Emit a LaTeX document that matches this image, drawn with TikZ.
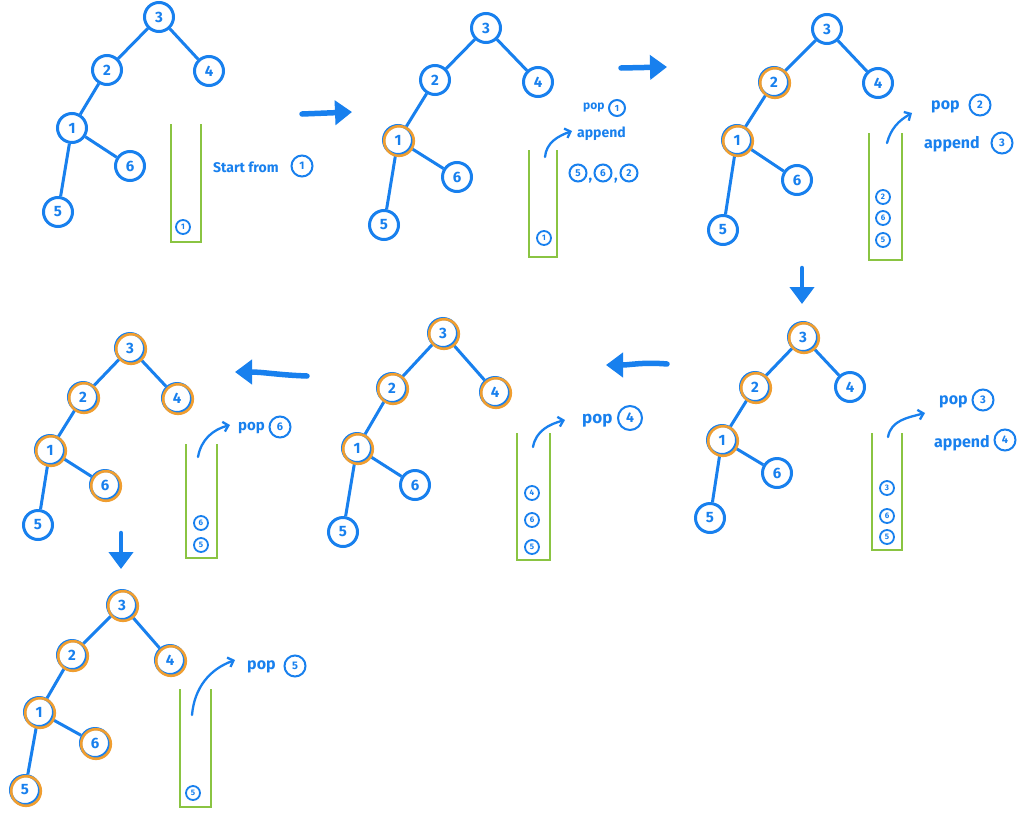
\documentclass[tikz,border=0pt]{standalone}
\usepackage{fontspec}
\setmainfont{Fira Sans}
\usetikzlibrary{arrows.meta}
\definecolor{bl}{RGB}{24,128,238}
\definecolor{og}{RGB}{240,158,48}
\definecolor{gr}{RGB}{138,196,66}
\tikzset{
  tn/.style={circle, draw=bl, line width=3pt, minimum size=29pt, inner sep=0pt, text=bl, font=\fontsize{15}{15}\selectfont\bfseries},
  edge/.style={draw=bl, line width=3pt},
  hlc/.style={draw=og, line width=2.6pt},
  stk/.style={draw=gr, line width=2.6pt, line join=miter},
  si/.style={circle, draw=bl, line width=1.8pt, minimum size=14pt, inner sep=0pt, text=bl, font=\fontsize{8}{8}\selectfont\bfseries},
  lc/.style={circle, draw=bl, line width=2pt, minimum size=21pt, inner sep=0pt, text=bl, font=\fontsize{11}{11}\selectfont\bfseries},
  lcs/.style={lc, minimum size=17pt, font=\fontsize{10}{10}\selectfont\bfseries},
  lbl/.style={text=bl, anchor=west, inner sep=0pt, font=\fontsize{15}{15}\selectfont\bfseries},
  bigarr/.style={draw=bl, line width=5.5pt, line cap=round, -{Triangle[length=17pt,width=24pt]}},
  carr/.style={draw=bl, line width=2.3pt, line cap=round, -{Straight Barb[length=5pt,width=10pt]}},
}
\newcommand\drawtree[7]{%
  \node[tn] (#1n3) at (#2) {3};
  \node[tn] (#1n2) at (#3) {2};
  \node[tn] (#1n4) at (#4) {4};
  \node[tn] (#1n1) at (#5) {1};
  \node[tn] (#1n6) at (#6) {6};
  \node[tn] (#1n5) at (#7) {5};
  \draw[edge] (#1n3) -- (#1n2);
  \draw[edge] (#1n3) -- (#1n4);
  \draw[edge] (#1n2) -- (#1n1);
  \draw[edge] (#1n1) -- (#1n6);
  \draw[edge] (#1n1) -- (#1n5);
}
\newcommand\hlnode[1]{\draw[hlc] ([shift={(1pt,-1pt)}]#1.center) circle[radius=14.8pt];}
\newcommand\drawstack[4]{\draw[stk] (#1,#3) -- (#1,#4) -- (#2,#4) -- (#2,#3);}
\begin{document}
\begin{tikzpicture}[x=1pt,y=-1pt]
\useasboundingbox (0,0) rectangle (1024,822);
\fill[white] (0,0) rectangle (1024,822);

% ---------- Panel 1 ----------
\drawtree{a}{159,17}{107,70}{209,71}{72,128}{130,166}{58,212}
\drawstack{171}{201}{124}{242}
\node[si] (as1) at (183,227) {1};
\node[lbl, font=\fontsize{14}{14}\selectfont\bfseries] (atx) at (213,167) {Start from};
\node[lc] (atc) at (302,166) {1};

% ---------- Panel 2 ----------
\drawtree{b}{486,28}{435,80}{538,82}{398,140}{457,177}{384,225}
\hlnode{bn1}
\drawstack{529}{557}{150}{257}
\node[si] (bs1) at (544,238) {1};
\coordinate (bcs) at (545,157);
\coordinate (bce) at (572,131);
\draw[carr] (bcs) to[out=85,in=200] (bce);
\node[lbl, font=\fontsize{12}{12}\selectfont\bfseries] (btp) at (583,108) {pop};
\node[lc, minimum size=16pt, font=\fontsize{9}{9}\selectfont\bfseries] (btc) at (617,108) {1};
\node[lbl, font=\fontsize{14}{14}\selectfont\bfseries] (bta) at (577,134) {append};
\node[lcs] (bq5) at (578,173) {5};
\node[lcs] (bq6) at (603,173) {6};
\node[lcs] (bq2) at (629,173) {2};
\node[lbl, anchor=center] (bk1) at (590.5,181) {,};
\node[lbl, anchor=center] (bk2) at (616,181) {,};

% ---------- Panel 3 ----------
\drawtree{c}{827,29}{774,82}{878,83}{737,140}{797,180}{723,230}
\hlnode{cn2}
\hlnode{cn1}
\drawstack{869}{902}{133}{260}
\node[si] (cs2) at (883,197) {2};
\node[si] (cs6) at (883,218) {6};
\node[si] (cs5) at (883,240) {5};
\coordinate (ccs) at (887,143);
\coordinate (cce) at (912,113);
\draw[carr] (ccs) to[out=75,in=210] (cce);
\node[lbl, font=\fontsize{16}{16}\selectfont\bfseries] (ctp) at (931,107) {pop};
\node[lc] (ctc) at (980,105) {2};
\node[lbl, font=\fontsize{16}{16}\selectfont\bfseries] (cta) at (924,144) {append};
\node[lc] (ctd) at (1002,143) {3};

% ---------- Panel 4 ----------
\drawtree{d}{803,337}{755,387}{850,387}{722,440}{777,473}{710,518}
\hlnode{dn3}
\hlnode{dn2}
\hlnode{dn1}
\drawstack{872}{902}{433}{550}
\node[si] (ds3) at (887,488) {3};
\node[si] (ds6) at (887,516) {6};
\node[si] (ds5) at (887,537) {5};
\coordinate (dcs) at (888,437);
\coordinate (dce) at (925,413);
\draw[carr] (dcs) to[out=80,in=195] (dce);
\node[lbl, font=\fontsize{16}{16}\selectfont\bfseries] (dtp) at (939,402) {pop};
\node[lc] (dtc) at (983,400) {3};
\node[lbl, font=\fontsize{16}{16}\selectfont\bfseries] (dta) at (934,443) {append};
\node[lc] (dtd) at (1005,440) {4};

% ---------- Panel 5 ----------
\drawtree{e}{443,333}{392,388}{495,392}{357,448}{415,485}{343,532}
\hlnode{en3}
\hlnode{en2}
\hlnode{en4}
\hlnode{en1}
\drawstack{517}{550}{433}{560}
\node[si] (es4) at (532,493) {4};
\node[si] (es6) at (532,520) {6};
\node[si] (es5) at (532,547) {5};
\coordinate (ecs) at (533,447);
\coordinate (ece) at (565,420);
\draw[carr] (ecs) to[out=80,in=195] (ece);
\node[lbl, font=\fontsize{17}{17}\selectfont\bfseries] (etp) at (582,421) {pop};
\node[lc, minimum size=24pt, font=\fontsize{14}{14}\selectfont\bfseries] (etc) at (630,418) {4};

% ---------- Panel 6 ----------
\drawtree{f}{130,348}{83,397}{177,398}{50,450}{105,485}{38,525}
\hlnode{fn3}
\hlnode{fn2}
\hlnode{fn4}
\hlnode{fn1}
\hlnode{fn6}
\drawstack{186}{217}{444}{558}
\node[si] (fs6) at (201,523) {6};
\node[si] (fs5) at (201,545) {5};
\coordinate (fcs) at (198,457);
\coordinate (fce) at (230,425);
\draw[carr] (fcs) to[out=80,in=195] (fce);
\node[lbl] (ftp) at (238,428) {pop};
\node[lc] (ftc) at (280,427) {6};

% ---------- Panel 7 ----------
\drawtree{g}{122,605}{72,655}{170,660}{39,712}{95,743}{25,790}
\hlnode{gn3}
\hlnode{gn2}
\hlnode{gn4}
\hlnode{gn1}
\hlnode{gn6}
\hlnode{gn5}
\drawstack{180}{211}{689}{807}
\node[si] (gs5) at (193,793) {5};
\coordinate (gcs) at (192,715);
\coordinate (gce) at (235,660);
\draw[carr] (gcs) to[out=85,in=200] (gce);
\node[lbl, font=\fontsize{16}{16}\selectfont\bfseries] (gtp) at (247,667) {pop};
\node[lc] (gtc) at (295,666) {5};

% ---------- Transition arrows ----------
\coordinate (t1s) at (302,114); \coordinate (t1e) at (352,112);
\coordinate (t2s) at (621,68);  \coordinate (t2e) at (667,67);
\coordinate (t3s) at (802,268); \coordinate (t3e) at (802,304);
\coordinate (t4s) at (667,364); \coordinate (t4e) at (606,365);
\coordinate (t5s) at (307,376); \coordinate (t5e) at (235,372);
\coordinate (t6s) at (121,533); \coordinate (t6e) at (121,569);
\draw[bigarr] (t1s) -- (t1e);
\draw[bigarr] (t2s) -- (t2e);
\draw[bigarr, line width=4.5pt] (t3s) -- (t3e);
\draw[bigarr] (t4s) to[out=175,in=0] (t4e);
\draw[bigarr] (t5s) to[out=178,in=0] (t5e);
\draw[bigarr, line width=4.5pt] (t6s) -- (t6e);
\end{tikzpicture}
\end{document}
